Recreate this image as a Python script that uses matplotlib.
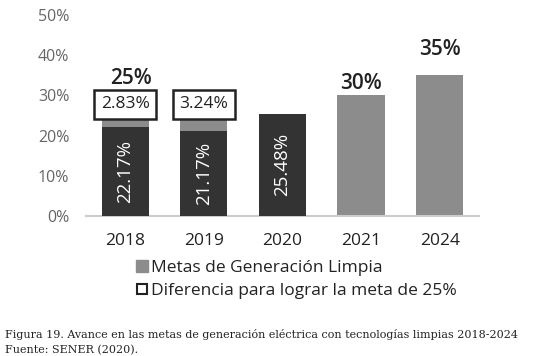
import matplotlib
matplotlib.use("Agg")
import matplotlib.pyplot as plt
from matplotlib.lines import Line2D

years = ["2018", "2019", "2020", "2021", "2024"]
metas = [25, 25, 25, 30, 35]
logrado = [22.17, 21.17, 25.48, 0, 0]
diferencia = [2.83, 3.24, None, None, None]
logrado_labels = ["22.17%", "21.17%", "25.48%", None, None]
meta_labels = ["25%", None, None, "30%", "35%"]
yticks = [0, 10, 20, 30, 40, 50]

FONT = "Open Sans"
DARK = "#333333"
GRAY = "#8c8c8c"

fig = plt.figure(figsize=(5.4, 3.56), dpi=100)
ax = fig.add_axes([0.159, 0.393, 0.728, 0.565])
x = list(range(len(years)))

ax.bar(x, metas, width=0.6, color=GRAY, zorder=2)
ax.bar(x, logrado, width=0.6, color=DARK, zorder=3)

for i, (v, lab) in enumerate(zip(logrado, logrado_labels)):
    if lab:
        ax.text(i, v / 2, lab, rotation=90, ha="center", va="center",
                color="white", fontsize=13.5, family=FONT, zorder=4)

for i, d in enumerate(diferencia):
    if d is not None:
        ax.text(i, 27.8, f"{d:.2f}%", ha="center", va="center", fontsize=12.5,
                family=FONT, color="#222222", zorder=5,
                bbox=dict(boxstyle="square,pad=0.38", fc="white", ec="#222222", lw=1.8))

meta_y = {0: 34.1, 3: 33.0, 4: 41.5}
meta_dx = {0: 0.08, 3: 0.0, 4: 0.0}
for i, lab in enumerate(meta_labels):
    if lab:
        ax.text(i + meta_dx[i], meta_y[i], lab, ha="center", va="center", fontsize=15,
                fontweight="semibold", family=FONT, color="#222222", zorder=5)

ax.set_xlim(-0.5, 4.5)
ax.set_ylim(0, 50)
ax.set_yticks(yticks)
ax.set_yticklabels([f"{t}%" for t in yticks], family=FONT, fontsize=11.5, color="#666666")
ax.set_xticks(x)
ax.set_xticklabels(years, family=FONT, fontsize=12.5, color="#222222")
ax.tick_params(axis="y", length=0, pad=12)
ax.tick_params(axis="x", length=0, pad=12)
for s in ["top", "right", "left"]:
    ax.spines[s].set_visible(False)
ax.spines["bottom"].set_color("#cccccc")
ax.spines["bottom"].set_linewidth(1.5)

handles = [
    Line2D([], [], marker="s", linestyle="none", markersize=8, markerfacecolor=GRAY,
           markeredgecolor=GRAY, label="Metas de Generación Limpia"),
    Line2D([], [], marker="s", linestyle="none", markersize=7.5, markerfacecolor="white",
           markeredgecolor="#222222", markeredgewidth=1.5, label="Diferencia para lograr la meta de 25%"),
]
fig.legend(handles=handles, loc="upper left", bbox_to_anchor=(0.253, 0.27),
           frameon=False, handlelength=0.6, handletextpad=0.2, labelspacing=0.38,
           borderaxespad=0, borderpad=0, prop={"family": FONT, "size": 12.5},
           labelcolor="#222222")

fig.text(0.009, 0.059, "Figura 19. Avance en las metas de generación eléctrica con tecnologías limpias 2018-2024",
         family="DejaVu Serif", fontsize=8, color="#222222", va="center")
fig.text(0.009, 0.017, "Fuente: SENER (2020).",
         family="DejaVu Serif", fontsize=8, color="#222222", va="center")

fig.savefig("out.png", dpi=100)
